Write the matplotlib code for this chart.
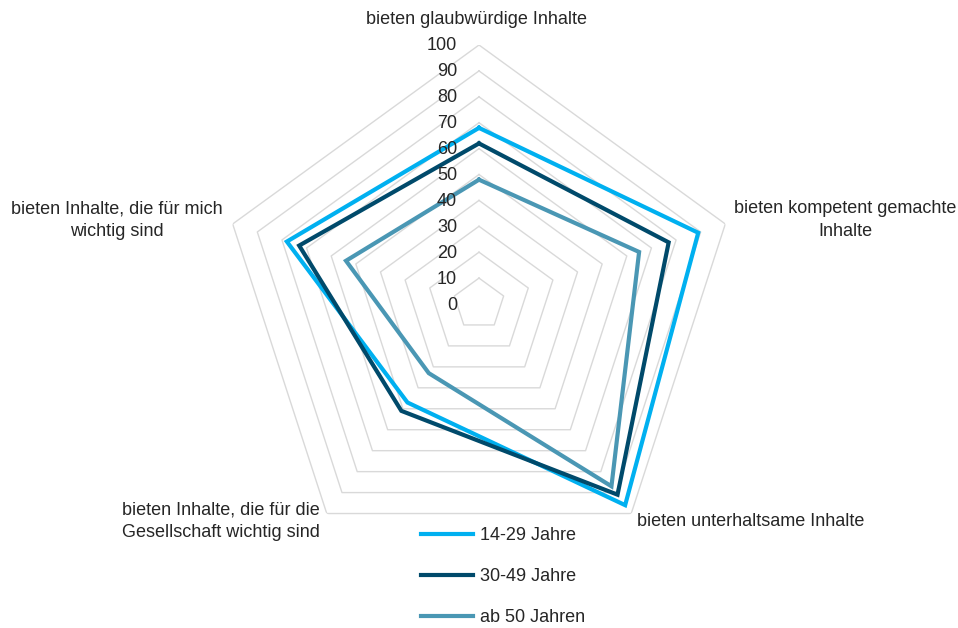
import numpy as np
import matplotlib
matplotlib.use("Agg")
import matplotlib.pyplot as plt
from matplotlib import font_manager

categories = [
    "bieten glaubwürdige Inhalte",
    "bieten kompetent gemachte\nInhalte",
    "bieten unterhaltsame Inhalte",
    "bieten Inhalte, die für die\nGesellschaft wichtig sind",
    "bieten Inhalte, die für mich\nwichtig sind",
]
series_names = ["14-29 Jahre", "30-49 Jahre", "ab 50 Jahren"]
values_14_29 = [68, 89, 96, 47, 78]
values_30_49 = [62, 77, 91, 51, 73]
values_50 = [48, 65, 87, 33, 54]
tick_values = [0, 10, 20, 30, 40, 50, 60, 70, 80, 90, 100]

colors = ["#00B0F0", "#004A6B", "#4A97B4"]

names = {f.name for f in font_manager.fontManager.ttflist}
fam = "Liberation Sans Narrow" if "Liberation Sans Narrow" in names else "Liberation Sans"
plt.rcParams["font.family"] = [fam, "DejaVu Sans"]
txt_color = "#262626"
fs = 13

fig = plt.figure(figsize=(9.58, 6.28), dpi=100)
W, H = 958, 628
cx, cy, R = 479, 304, 259
ax = fig.add_axes([(cx - R) / W, (H - cy - R) / H, 2 * R / W, 2 * R / H], projection="polar")
ax.set_theta_offset(np.pi / 2)
ax.set_theta_direction(-1)
ax.set_ylim(0, 100)
ax.grid(False)
ax.spines["polar"].set_visible(False)
ax.set_xticks([])
ax.set_yticks([])
ax.patch.set_alpha(0)

n = len(categories)
angles = np.arange(n) * 2 * np.pi / n
closed = np.append(angles, angles[0])

for v in tick_values[1:]:
    ax.plot(closed, [v] * (n + 1), color="#D9D9D9", lw=1.0, zorder=1)

for vals, c, name in zip([values_14_29, values_30_49, values_50], colors, series_names):
    ax.plot(closed, list(vals) + [vals[0]], color=c, lw=3.0, label=name, zorder=3,
            solid_joinstyle="miter")

for v in tick_values:
    ax.annotate(str(v), (0, v), xytext=(-22, -1), textcoords="offset pixels",
                ha="right", va="center", fontsize=fs, color=txt_color, zorder=4)

label_specs = [
    ((-3, 25), "center", "center", "center"),
    ((120, 4), "center", "center", "center"),
    ((6, -8), "left", "center", "left"),
    ((-7, -8), "right", "center", "right"),
    ((-116, 4), "center", "center", "center"),
]
for ang, lab, (off, ha, va, ma) in zip(angles, categories, label_specs):
    ax.annotate(lab, (ang, 100), xytext=off, textcoords="offset pixels",
                ha=ha, va=va, multialignment=ma, fontsize=fs, color=txt_color,
                linespacing=1.45, annotation_clip=False)

leg = fig.legend(loc="upper left", bbox_to_anchor=(421 / W, 1 - 527 / H),
                 frameon=False, fontsize=fs, handlelength=2.9, handletextpad=0.35,
                 labelspacing=1.33, borderaxespad=0, borderpad=0)
for t in leg.get_texts():
    t.set_color(txt_color)

fig.savefig("out.png", dpi=100)
